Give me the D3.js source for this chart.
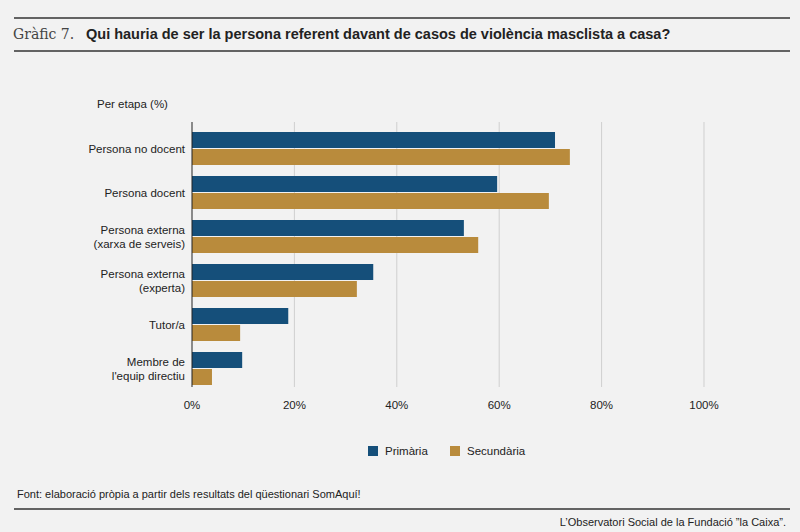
<!DOCTYPE html>
<html><head><meta charset="utf-8">
<script src="https://cdn.jsdelivr.net/npm/d3@7"></script>
<style>body{margin:0;background:#f2f2f2}svg{display:block}text{font-family:"Liberation Sans",Arial,sans-serif;fill:#222}</style>
</head><body><div id="chart"></div>
<script>
const categories = [["Persona no docent"],["Persona docent"],["Persona externa","(xarxa de serveis)"],["Persona externa","(experta)"],["Tutor/a"],["Membre de","l'equip directiu"]];
const primaria = [70.9, 59.6, 53.1, 35.4, 18.8, 9.8];
const secundaria = [73.8, 69.7, 55.9, 32.2, 9.4, 3.9];
const ticks = [0, 20, 40, 60, 80, 100];
const seriesNames = ["Primària", "Secundària"];
const colors = ["#154f7a", "#b98b3c"];

const W = 800, H = 532;
const svg = d3.select("#chart").append("svg").attr("width", W).attr("height", H);
svg.append("rect").attr("width", W).attr("height", H).attr("fill", "#f2f2f2");

// header
svg.append("line").attr("x1", 14).attr("x2", 790).attr("y1", 18).attr("y2", 18).attr("stroke", "#333").attr("stroke-width", 1.5);
svg.append("line").attr("x1", 14).attr("x2", 790).attr("y1", 51).attr("y2", 51).attr("stroke", "#333").attr("stroke-width", 1.5);
svg.append("text").attr("x", 13).attr("y", 39).style("font-family", "'DejaVu Serif',serif").style("font-size", "14px").style("fill", "#444").text("Gràfic 7.");
svg.append("text").attr("x", 86).attr("y", 39).style("font-size", "14.5px").style("font-weight", "bold").text("Qui hauria de ser la persona referent davant de casos de violència masclista a casa?");

const x = d3.scaleLinear().domain([0, 100]).range([192, 704]);
const y = d3.scaleBand().domain(d3.range(categories.length)).range([132, 385]).paddingInner(0.25).paddingOuter(0);

svg.append("text").attr("x", 97).attr("y", 108).style("font-size", "11.5px").text("Per etapa (%)");

// grid
svg.selectAll(".grid").data(ticks.slice(1)).enter().append("line")
  .attr("x1", d => x(d)).attr("x2", d => x(d)).attr("y1", 122).attr("y2", 387)
  .attr("stroke", "#cfcfcf");

const bh = (y.bandwidth() - 1) / 2;
[primaria, secundaria].forEach((vals, s) => {
  svg.selectAll(".bar" + s).data(vals).enter().append("rect")
    .attr("x", x(0)).attr("y", (d, i) => y(i) + s * (bh + 1))
    .attr("width", d => x(d) - x(0)).attr("height", bh)
    .attr("fill", colors[s]);
});

svg.append("line").attr("x1", x(0)).attr("x2", x(0)).attr("y1", 122).attr("y2", 387).attr("stroke", "#222");

// category labels
categories.forEach((lines, i) => {
  const cy = y(i) + bh + 0.5;
  const t = svg.append("text").attr("x", 185).attr("text-anchor", "end").style("font-size", "11.5px");
  lines.forEach((l, k) => t.append("tspan").attr("x", 185)
    .attr("y", cy + 4 + (k - (lines.length - 1) / 2) * 14).text(l));
});

// x ticks
svg.selectAll(".tick").data(ticks).enter().append("text")
  .attr("x", d => x(d)).attr("y", 409).attr("text-anchor", "middle").style("font-size", "11.5px")
  .text(d => d + "%");

// legend
const lg = [368, 450];
seriesNames.forEach((n, i) => {
  svg.append("rect").attr("x", lg[i]).attr("y", 446).attr("width", 10).attr("height", 10).attr("fill", colors[i]);
  svg.append("text").attr("x", lg[i] + 17).attr("y", 455).style("font-size", "11.5px").text(n);
});

// footer
svg.append("text").attr("x", 17).attr("y", 498).style("font-size", "11px").text("Font: elaboració pròpia a partir dels resultats del qüestionari SomAquí!");
svg.append("line").attr("x1", 14).attr("x2", 790).attr("y1", 509).attr("y2", 509).attr("stroke", "#333").attr("stroke-width", 1.5);
svg.append("text").attr("x", 786).attr("y", 526).attr("text-anchor", "end").style("font-size", "11px").text("L’Observatori Social de la Fundació ”la Caixa”.");
</script></body></html>
